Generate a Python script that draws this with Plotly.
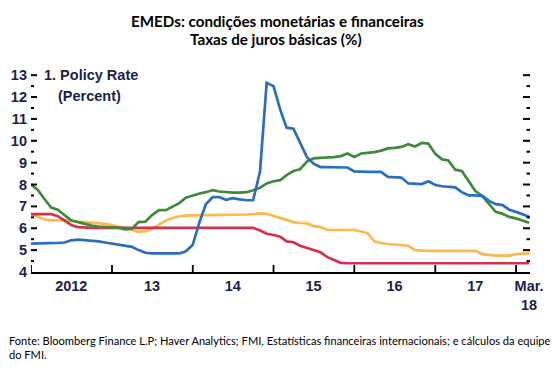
import pandas as pd
import plotly.graph_objects as go

months = pd.date_range("2012-01-01", "2018-03-01", freq="MS")

green = [8.0, 7.75, 7.35, 6.95, 6.85, 6.6, 6.35, 6.28, 6.2, 6.12, 6.08, 6.05,
         6.05, 6.02, 5.95, 5.98, 6.28, 6.3, 6.6, 6.83, 6.83, 6.98, 7.15, 7.4,
         7.5, 7.59, 7.65, 7.74, 7.68, 7.64, 7.63, 7.63, 7.65, 7.74, 7.85, 8.05,
         8.15, 8.2, 8.43, 8.62, 8.7, 9.05, 9.2, 9.22, 9.23, 9.25, 9.3, 9.42,
         9.26, 9.42, 9.45, 9.48, 9.55, 9.65, 9.68, 9.72, 9.84, 9.74, 9.9, 9.87,
         9.4, 9.15, 9.1, 8.68, 8.62, 8.15, 7.7, 7.48, 7.1, 6.75, 6.66, 6.52,
         6.45, 6.36, 6.25]

blue = [5.3, 5.3, 5.3, 5.32, 5.33, 5.35, 5.45, 5.48, 5.46, 5.43, 5.4, 5.35,
        5.3, 5.25, 5.22, 5.15, 5.0, 4.88, 4.85, 4.85, 4.85, 4.85, 4.85, 4.95,
        5.25, 6.3, 7.1, 7.42, 7.42, 7.3, 7.38, 7.32, 7.28, 7.28, 8.6, 12.65,
        12.5, 11.4, 10.6, 10.55, 9.9, 9.25, 8.95, 8.8, 8.8, 8.8, 8.78, 8.78,
        8.6, 8.58, 8.58, 8.58, 8.58, 8.35, 8.32, 8.32, 8.05, 8.02, 8.02, 8.15,
        7.98, 7.92, 7.9, 7.87, 7.65, 7.5, 7.5, 7.48, 7.25, 7.1, 7.06, 6.85,
        6.75, 6.65, 6.53]

orange = [6.65, 6.53, 6.4, 6.37, 6.37, 6.38, 6.35, 6.3, 6.28, 6.26, 6.25, 6.2,
          6.15, 6.08, 6.0, 5.92, 5.84, 5.86, 5.98, 6.18, 6.35, 6.47, 6.55, 6.58,
          6.6, 6.6, 6.6, 6.6, 6.6, 6.6, 6.6, 6.6, 6.63, 6.65, 6.68, 6.66,
          6.56, 6.45, 6.37, 6.28, 6.24, 6.22, 6.1, 6.05, 5.92, 5.92, 5.92, 5.92,
          5.92, 5.85, 5.77, 5.4, 5.32, 5.28, 5.25, 5.22, 5.2, 5.0, 4.97, 4.97,
          4.97, 4.97, 4.97, 4.97, 4.97, 4.97, 4.97, 4.82, 4.77, 4.75, 4.75, 4.75,
          4.82, 4.84, 4.85]

red = [6.65, 6.65, 6.65, 6.65, 6.55, 6.35, 6.15, 6.05, 6.02, 6.02, 6.02, 6.02,
       6.02, 6.02, 6.02, 6.02, 6.02, 6.02, 6.02, 6.02, 6.02, 6.02, 6.02, 6.02,
       6.02, 6.02, 6.02, 6.02, 6.02, 6.02, 6.02, 6.02, 6.02, 6.02, 5.9, 5.75,
       5.69, 5.61, 5.4, 5.36, 5.2, 5.1, 5.0, 4.9, 4.68, 4.57, 4.42, 4.4,
       4.4, 4.4, 4.4, 4.4, 4.4, 4.4, 4.4, 4.4, 4.4, 4.4, 4.4, 4.4,
       4.4, 4.4, 4.4, 4.4, 4.4, 4.4, 4.4, 4.4, 4.4, 4.4, 4.4, 4.4,
       4.4, 4.4, 4.4]

x_label_dates = ["2012-07-01", "2013-07-01", "2014-07-01", "2015-07-01",
                 "2016-07-01", "2017-07-01", "2018-03-01"]
x_labels = ["2012", "13", "14", "15", "16", "17", "Mar.<br>18"]
year_ticks = ["2012-01-01", "2013-01-01", "2014-01-01", "2015-01-01",
              "2016-01-01", "2017-01-01", "2018-01-01"]
y_ticks = list(range(4, 14))
y_half_ticks = [v + 0.5 for v in range(4, 13)]

title_lines = ["EMEDs: condições monetárias e financeiras", "Taxas de juros básicas (%)"]
panel_label = ["1. Policy Rate", "(Percent)"]
source_lines = ["Fonte: Bloomberg Finance L.P; Haver Analytics; FMI, Estatísticas financeiras internacionais; e cálculos da equipe",
                "do FMI."]

navy = "#1b1f4b"
tick_font = dict(family="Liberation Sans, Arial, sans-serif", size=14.5,
                 color=navy, weight="bold")
X_RANGE = ["2012-01-01", "2018-03-05"]
Y_RANGE = [4, 13.1]
PW, PH = 499.0, 199.0

fig = go.Figure()
series = [(orange, "#fdb94f"), (red, "#d2334b"), (green, "#3f8b3b"), (blue, "#2a6fbe")]
for vals, col in series:
    fig.add_trace(go.Scatter(x=months, y=vals, mode="lines",
                             line=dict(color=col, width=2.7), hoverinfo="skip"))

# Inside tick marks on both y sides and along the bottom axis,
# sized in pixels and converted through the axis ranges
x0 = pd.Timestamp(X_RANGE[0])
x1 = pd.Timestamp(X_RANGE[1])
span = x1 - x0
def dx(pixels):
    return span * (pixels / PW)
def dy(pixels):
    return (Y_RANGE[1] - Y_RANGE[0]) * pixels / PH

tx, ty = [], []
for v in y_ticks[1:]:
    tx += [x0, x0 + dx(6), None, x1 - dx(7), x1, None]
    ty += [v, v, None, v, v, None]
for v in y_half_ticks:
    tx += [x0, x0 + dx(3), None, x1 - dx(3.5), x1, None]
    ty += [v, v, None, v, v, None]
fig.add_trace(go.Scatter(x=tx, y=ty, mode="lines", line=dict(color="black", width=2),
                         hoverinfo="skip", connectgaps=False))

vx, vy = [], []
for d in year_ticks:
    t = pd.Timestamp(d)
    vx += [t, t, None]
    vy += [Y_RANGE[0], Y_RANGE[0] + dy(7), None]
fig.add_trace(go.Scatter(x=vx, y=vy, mode="lines", line=dict(color="black", width=1.8),
                         hoverinfo="skip", connectgaps=False))

fig.update_layout(
    width=559, height=371,
    margin=dict(l=31, r=29, t=73, b=99, autoexpand=False),
    paper_bgcolor="white", plot_bgcolor="white",
    showlegend=False,
    xaxis=dict(
        range=X_RANGE, automargin=False,
        tickmode="array", tickvals=x_label_dates, ticktext=x_labels,
        ticks="", tickfont=tick_font,
        showgrid=False, zeroline=False,
        showline=True, linecolor="black", linewidth=1.8,
    ),
    yaxis=dict(
        range=Y_RANGE, automargin=False,
        tickmode="array", tickvals=y_ticks,
        ticks="", showline=False, showgrid=False, zeroline=False,
        tickfont=tick_font, ticklabelstandoff=3,
    ),
)

def px(x):
    return (x - 31) / PW
def py(y):
    return (272 - y) / PH

title_font = dict(family="Lato, Open Sans, sans-serif", size=15.2, color="black")
fig.add_annotation(text="<b>" + title_lines[0] + "</b>", xref="paper", yref="paper",
                   x=px(277), y=py(21), xanchor="center", yanchor="middle",
                   showarrow=False, font=title_font)
fig.add_annotation(text="<b>" + title_lines[1] + "</b>", xref="paper", yref="paper",
                   x=px(276), y=py(39), xanchor="center", yanchor="middle",
                   showarrow=False, font=title_font)

label_font = dict(family="Liberation Sans, Arial, sans-serif", size=14.5, color=navy)
fig.add_annotation(text="<b>" + panel_label[0] + "</b>", xref="paper", yref="paper",
                   x=px(42), y=py(75), xanchor="left", yanchor="middle",
                   showarrow=False, font=label_font)
fig.add_annotation(text="<b>" + panel_label[1] + "</b>", xref="paper", yref="paper",
                   x=px(89), y=py(96), xanchor="center", yanchor="middle",
                   showarrow=False, font=label_font)

src_font = dict(family="Lato, Open Sans, sans-serif", size=11.1, color="black")
fig.add_annotation(text=source_lines[0], xref="paper", yref="paper",
                   x=px(7), y=py(340), xanchor="left", yanchor="middle",
                   showarrow=False, font=src_font)
fig.add_annotation(text=source_lines[1], xref="paper", yref="paper",
                   x=px(7), y=py(354), xanchor="left", yanchor="middle",
                   showarrow=False, font=src_font)

fig.write_html("out.html", config={"displayModeBar": False},
               post_script="document.body.style.margin='0px';document.body.style.padding='0px';")
